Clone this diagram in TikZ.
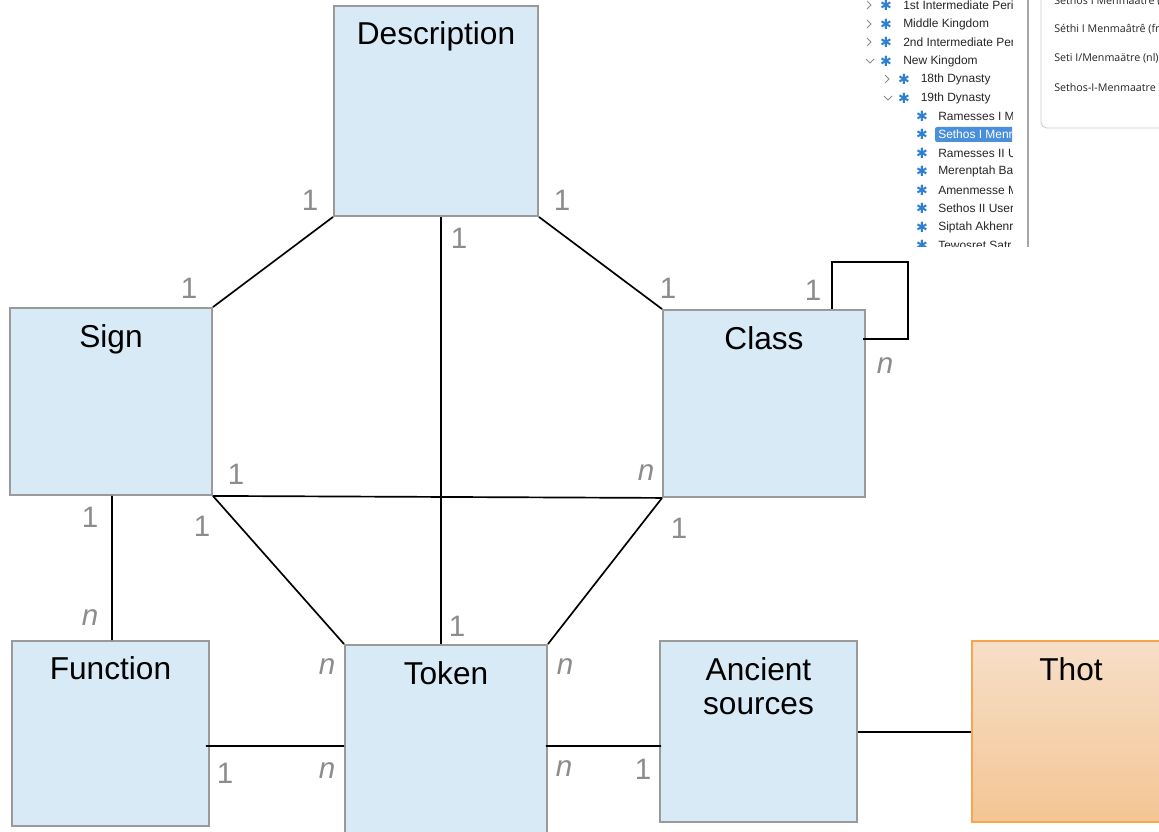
\documentclass[tikz,border=0pt]{standalone}
\usepackage{fontspec}
\setmainfont{Liberation Sans}
\newfontfamily\symfont{DejaVu Sans}
\newfontfamily\panelfont{Open Sans}
\usetikzlibrary{positioning, calc}
\definecolor{boxfill}{HTML}{D7EAF6}
\definecolor{boxline}{HTML}{9A9A9A}
\definecolor{multgray}{HTML}{8C8C8C}
\definecolor{thottop}{HTML}{F6DFC8}
\definecolor{thotbot}{HTML}{F4C594}
\definecolor{thotline}{HTML}{F7A54F}
\definecolor{treeblue}{HTML}{2F80D1}
\definecolor{selblue}{HTML}{4A8FDA}

\begin{document}
\begin{tikzpicture}[x=0.025cm, y=-0.025cm,
box/.style={rectangle, draw=boxline, fill=boxfill, line width=1.3pt, inner sep=0pt},
thotbox/.style={rectangle, draw=thotline, top color=thottop, bottom color=thotbot, line width=1.3pt, inner sep=0pt},
title/.style={anchor=north, inner sep=0pt, align=center, font=\fontsize{22.5}{24.2}\selectfont},
mult/.style={text=multgray, inner sep=0pt, font=\fontsize{21}{21}\selectfont},
link/.style={black, line width=1.2pt},
treetxt/.style={anchor=west, inner sep=0pt, font=\fontsize{8.5}{9}\selectfont, text=black!85},
treestar/.style={inner sep=0pt, text=treeblue, font=\symfont\bfseries\fontsize{10}{10}\selectfont},
chev/.style={draw=black!45, line width=0.6pt},
paneltxt/.style={anchor=west, inner sep=0pt, font=\panelfont\fontsize{7.6}{8}\selectfont, text=black!85}
]
\useasboundingbox (0,0) rectangle (1159,832);
\fill[white] (0,0) rectangle (1159,832);
\clip (0,0) rectangle (1159,832);

% entity boxes
\node[box, minimum width=5.1cm, minimum height=5.25cm] (desc) at (436,111) {};
\node[box, minimum width=5.05cm, minimum height=4.675cm] (sign) at (111,401.5) {};
\node[box, minimum width=5.05cm, minimum height=4.675cm] (class) at (764,403.5) {};
\node[box, minimum width=4.925cm, minimum height=4.625cm] (func) at (110.5,733.5) {};
\node[box, minimum width=5.05cm, minimum height=5cm] (tok) at (446,745) {};
\node[box, minimum width=4.925cm, minimum height=4.525cm] (anc) at (758.5,731.5) {};
\node[thotbox, minimum width=5.45cm, minimum height=4.525cm] (thot) at (1081,731.5) {};

% titles
\node[title] (descT) at ($(desc.north)+(0,16)$) {Description};
\node[title] (signT) at ($(sign.north)+(0,17)$) {Sign};
\node[title] (classT) at ($(class.north)+(0,17)$) {Class};
\node[title] (funcT) at ($(func.north)+(0,16)$) {Function};
\node[title] (tokT) at ($(tok.north)+(0,17)$) {Token};
\node[title] (ancT) at ($(anc.north)+(0,17)$) {Ancient\\sources};
\node[title] (thotT) at ($(thot.north)+(-10,17)$) {Thot};

% connectors
\draw[link] (desc.south west) -- (sign.north east);
\draw[link] (desc.south east) -- (class.north west);
\draw[link] ($(desc.south)+(5,0)$) -- ($(tok.north)+(-5,0)$);
\draw[link] (sign.south east) -- (class.south west);
\draw[link] (sign.south east) -- (tok.north west);
\draw[link] (class.south west) -- (tok.north east);
\draw[link] ($(sign.south)+(1,0)$) -- ($(func.north)+(1.5,0)$);
\draw[link] ($(func.east)+(-4,12.5)$) -- ($(tok.west)+(0,1)$);
\draw[link] ($(tok.east)+(-2,1)$) -- ($(anc.west)+(2,14.5)$);
\draw[link] ($(anc.east)+(0,0.5)$) -- ($(thot.west)+(0,0.5)$);
\draw[link] ($(class.north west)+(170,0)$) |- ++(76,-47) |- ($(class.east)+(-3,-64.5)$);

% multiplicities
\node[mult] (m1) at (310,200) {1};
\node[mult] (m2) at (189,288) {1};
\node[mult] (m3) at (562,200) {1};
\node[mult] (m4) at (668,288) {1};
\node[mult] (m5) at (459,238) {1};
\node[mult] (m6) at (813,290) {1};
\node[mult] (m7) at (885,366) {\textit{n}};
\node[mult] (m8) at (236,474) {1};
\node[mult] (m9) at (646,473) {\textit{n}};
\node[mult] (m10) at (90,517) {1};
\node[mult] (m11) at (90,618) {\textit{n}};
\node[mult] (m12) at (202,526) {1};
\node[mult] (m13) at (327,667) {\textit{n}};
\node[mult] (m14) at (679,528) {1};
\node[mult] (m15) at (565,667) {\textit{n}};
\node[mult] (m16) at (457,626) {1};
\node[mult] (m17) at (225,773) {1};
\node[mult] (m18) at (327,771) {\textit{n}};
\node[mult] (m19) at (564,769) {\textit{n}};
\node[mult] (m20) at (643,769) {1};

% tree panel (screenshot)
\begin{scope}
\clip (860,0) rectangle (1012,247);
\foreach \y/\lvl/\txt in {5/0/1st Intermediate Peri, 24/0/Middle Kingdom,
  42/0/2nd Intermediate Per, 61/0/New Kingdom, 79/1/18th Dynasty,
  98/1/19th Dynasty, 116/2/Ramesses I M, 134/2/{}, 153/2/Ramesses II U,
  171/2/Merenptah Ba, 190/2/Amenmesse M, 208/2/Sethos II User,
  227/2/Siptah Akhenr, 245/2/Tewosret Satr}{
  \node[treestar] (star\y) at ({886+18*\lvl},\y) {✱};
  \node[treetxt] (row\y) at ({903+17.5*\lvl},\y) {\txt};
}
\fill[selblue, rounded corners=1.5pt] (935,127) rectangle (1016,142);
\node[treetxt, text=white] (rowsel) at (938,134.5) {Sethos I Menr};
\foreach \y/\lvl in {5/0, 24/0, 42/0, 79/1}{
  \draw[chev] ({867+18*\lvl},\y-4) -- ({871+18*\lvl},\y) -- ({867+18*\lvl},\y+4);
}
\foreach \y/\lvl in {61/0, 98/1}{
  \draw[chev] ({866+18*\lvl},\y-2) -- ({870+18*\lvl},\y+2) -- ({874+18*\lvl},\y-2);
}
\end{scope}
\draw[black!35, line width=0.8pt] (1028,0) -- (1028,247);

% names panel (screenshot)
\draw[black!20, line width=0.6pt, rounded corners=4pt] (1041,-10) -- (1041,128) -- (1175,128);
\node[paneltxt] (nm1) at (1054,1) {Sethos I Menmaâtre (};
\node[paneltxt] (nm2) at (1054,29) {Séthi I Menmaâtrê (fr};
\node[paneltxt] (nm3) at (1054,58) {Seti I/Menmaätre (nl)};
\node[paneltxt] (nm4) at (1054,87) {Sethos-I-Menmaatre};
\end{tikzpicture}
\end{document}
